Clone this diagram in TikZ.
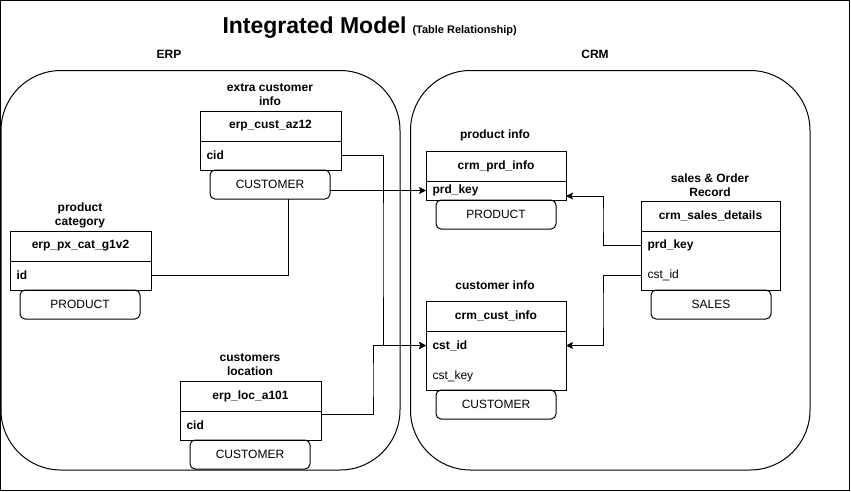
\documentclass[tikz,border=0pt]{standalone}
\usepackage{fontspec}
\setmainfont{Liberation Sans}
\usetikzlibrary{arrows.meta}
\newcommand\fsz{\fontsize{12}{14}\selectfont}
\begin{document}
\begin{tikzpicture}[x=1pt,y=-1pt, line width=1pt,
  hdr/.style={draw, anchor=north west, minimum height=30pt, inner sep=0pt, outer sep=0pt, font=\bfseries\fsz},
  bod/.style={draw, anchor=north west, inner sep=0pt, outer sep=0pt},
  fldb/.style={anchor=west, inner sep=0pt, font=\bfseries\fsz},
  fldr/.style={anchor=west, inner sep=0pt, font=\fsz},
  tagbox/.style={draw, rounded corners=5pt, anchor=north west, minimum width=120pt, minimum height=29pt, inner sep=0pt, outer sep=0pt, font=\fsz},
  lbl/.style={align=center, inner sep=0pt, font=\bfseries\fsz},
  zone/.style={draw, rounded corners=60pt, anchor=north west, minimum height=399.5pt, inner sep=0pt, outer sep=0pt},
  arr/.style={-{Stealth[length=7pt,width=7pt,inset=1.5pt]}}
]
\useasboundingbox (0,0) rectangle (851,491);
\draw (0.5,0.5) rectangle (849.5,490.5);

% title
\node[anchor=base west, inner sep=0pt, font=\bfseries\fontsize{23}{27}\selectfont] (title) at (222,33) {Integrated Model};
\node[anchor=base west, inner sep=0pt, font=\bfseries\fontsize{11}{13}\selectfont] (sub) at (412,33) {(Table Relationship)};

% zones
\node[zone, minimum width=399pt] (erp) at (1,70.5) {};
\node[zone, minimum width=399.5pt] (crm) at (410.5,70.5) {};
\node[font=\bfseries\fsz] (erpl) at (169,54) {ERP};
\node[font=\bfseries\fsz] (crml) at (595,54) {CRM};

% erp_cust_az12
\node[hdr, minimum width=141pt] (h1) at (200,111) {erp\_cust\_az12};
\node[bod, minimum width=141pt, minimum height=29pt] (b1) at (h1.south west) {};
\node[fldb] (f1) at (206,155.5) {cid};
\node[tagbox] (g1) at (210,170) {CUSTOMER};
\node[lbl] (c1) at (270,95) {extra customer\\info};

% erp_px_cat_g1v2
\node[hdr, minimum width=141pt] (h2) at (10,231) {erp\_px\_cat\_g1v2};
\node[bod, minimum width=141pt, minimum height=29pt] (b2) at (h2.south west) {};
\node[fldb] (f2) at (16,275.5) {id};
\node[tagbox] (g2) at (20,290) {PRODUCT};
\node[lbl] (c2) at (80,215) {product\\category};

% erp_loc_a101
\node[hdr, minimum width=141pt] (h3) at (180,381) {erp\_loc\_a101};
\node[bod, minimum width=141pt, minimum height=29pt] (b3) at (h3.south west) {};
\node[fldb] (f3) at (186,425.5) {cid};
\node[tagbox] (g3) at (190,440) {CUSTOMER};
\node[lbl] (c3) at (250,365) {customers\\location};

% crm_prd_info
\node[hdr, minimum width=140pt] (h4) at (426,151) {crm\_prd\_info};
\node[bod, minimum width=140pt, minimum height=19pt] (b4) at (h4.south west) {};
\node[fldb] (f4) at (432,190.5) {prd\_key};
\node[tagbox] (g4) at (436,200) {PRODUCT};
\node[lbl] (c4) at (495,135) {product info};

% crm_cust_info
\node[hdr, minimum width=140pt] (h5) at (426,301) {crm\_cust\_info};
\node[bod, minimum width=140pt, minimum height=59pt] (b5) at (h5.south west) {};
\node[fldb] (f5a) at (432,345.5) {cst\_id};
\node[fldr] (f5b) at (432,376) {cst\_key};
\node[tagbox] (g5) at (436,390) {CUSTOMER};
\node[lbl] (c5) at (495,285) {customer info};

% crm_sales_details
\node[hdr, minimum width=139pt] (h6) at (641,201) {crm\_sales\_details};
\node[bod, minimum width=139pt, minimum height=59pt] (b6) at (h6.south west) {};
\node[fldb] (f6a) at (647,245.5) {prd\_key};
\node[fldr] (f6b) at (647,275.5) {cst\_id};
\node[tagbox] (g6) at (651,290) {SALES};
\node[lbl] (c6) at (710,185) {sales \& Order\\Record};

% bend points
\coordinate (v1) at (383,250);
\coordinate (v2) at (373,380);
\coordinate (v3) at (288,240);
\coordinate (v4) at (603,220);
\coordinate (v5) at (603,310);

% connectors
\draw[arr] (b1.east |- f1.west) -| (v1) |- (b5.west |- f5a.west);
\draw[arr] ([yshift=-3pt]b3.north east) -| (v2) |- (b5.west |- f5a.west);
\draw[arr] (g1.east |- f4.west) -- (b4.west |- f4.west);
\draw (g1.south -| v3) |- (b2.east |- f2.west);
\draw[arr] (b6.west |- f6a.west) -| (v4) |- ([yshift=4pt]b4.south east);
\draw[arr] (b6.west |- f6b.west) -| (v5) |- (b5.east |- f5a.east);
\end{tikzpicture}
\end{document}
